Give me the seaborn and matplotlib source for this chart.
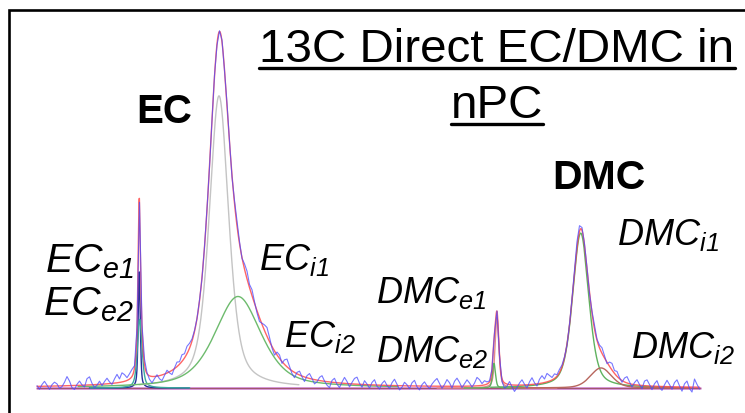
import numpy as np
import pandas as pd
import seaborn as sns
import matplotlib
matplotlib.use("Agg")
import matplotlib.pyplot as plt
from matplotlib.lines import Line2D
from matplotlib.patches import Rectangle

sns.set_theme(style="white")
plt.rcParams["font.family"] = ["Liberation Sans", "DejaVu Sans"]
plt.rcParams["text.color"] = "black"
plt.rcParams["mathtext.fontset"] = "custom"
plt.rcParams["mathtext.rm"] = "Liberation Sans:italic"
plt.rcParams["mathtext.it"] = "Liberation Sans:italic"
plt.rcParams["mathtext.bf"] = "Liberation Sans:bold"

# Fitted components of the 13C spectrum (chemical shift in ppm, intensity in % of the EC maximum)
components = ["ECe1", "ECe2", "ECi1", "ECi2", "DMCe1", "DMCe2", "DMCi1", "DMCi2"]
centers = [65.955, 65.945, 64.36, 63.98, 58.80, 58.86, 57.126, 56.72]
heights = [33.0, 19.5, 83.0, 26.0, 20.0, 7.0, 44.0, 5.7]
fwhm = [0.05, 0.11, 0.46, 1.10, 0.09, 0.07, 0.38, 0.50]
lorentz_frac = [0.5, 0.5, 0.55, 0.55, 0.5, 0.4, 0.45, 0.3]
comp_colors = ["#26309a", "#3aa8a0", "#c4c4c4", "#6dbb6d", "#e58a8a", "#5fb25f", "#5fb25f", "#b8675e"]
comp_span = [1.0, 1.0, 1.6, 3.2, 1.2, 0.6, 1.8, 1.8]

# Measured spectrum: residuals from the fit on a 0.05 ppm grid (68.00 -> 54.75 ppm)
shift_start, shift_step = 68.0, 0.05
residuals = [
    0.2, -0.8, 0.5, 1.4, 0.3, -0.9, 0.4, 1.1, 0.6, -0.7,
    -0.2, 1.0, 2.6, 1.3, -0.6, -1.1, 0.3, 1.2, 0.1, -0.5,
    1.8, 2.3, 0.4, -0.8, -0.2, 0.9, -0.4, 0.7, 1.6, 0.5,
    -0.3, 1.2, 2.4, 1.0, 2.6, 1.9, 0.8, 1.5, 2.0, 0.6,
    0.0, -0.5, 0.5, 1.4, 0.3, -1.0, -1.8, -0.6, 0.4, -0.9,
    -1.6, -0.4, 0.8, -0.3, -1.2, 0.2, 1.3, 0.7, 1.9, 1.2,
    2.1, 1.4, 0.6, 0.3, 0.0, 0.2, -0.3, 0.1, 0.4, -0.2,
    0.0, 0.3, -0.4, 0.2, 0.5, -0.3, 0.6, 0.2, -0.5, 0.8,
    1.4, 0.6, -0.2, 1.5, 2.2, 0.9, 1.7, 0.5, -0.6, -1.1,
    0.3, 1.6, 2.5, 1.2, -0.4, -1.2, 0.8, 1.0, -0.5, 1.3,
    2.2, 0.7, -0.8, -1.5, 0.4, 1.1, -0.2, -1.3, 0.6, 1.4,
    0.2, -1.2, -0.5, 0.9, 1.5, 0.1, -1.0, -1.6, 0.5, 1.2,
    -0.4, -1.3, 0.3, 1.7, 0.6, -0.9, 0.4, 1.6, 2.0, 0.3,
    -0.8, 1.1, 0.2, -1.0, 0.7, 1.5, -0.3, -1.1, 0.5, 1.3,
    0.0, -0.9, 0.8, 1.8, 0.4, -1.2, -0.4, 1.0, 0.3, -0.8,
    0.9, 1.6, -0.2, -1.1, 0.4, 1.2, 0.1, -0.7, 0.6, 1.5,
    2.2, 0.8, -0.6, 0.5, 1.9, 1.0, -0.5, 1.4, 2.3, 1.1,
    -0.4, 0.7, 1.8, 0.9, -0.3, 0.8, 2.4, 1.7, 0.5, 1.2,
    0.6, 0.3, 0.0, -0.2, 0.1, -0.3, -0.8, -1.5, -0.6, 0.9,
    -0.5, -1.8, -0.7, 0.6, 1.5, 0.2, -0.9, 0.8, 1.9, 0.4,
    -0.6, 1.2, 2.1, 1.0, 2.4, 1.6, 0.7, 1.3, 0.4, 0.9,
    0.5, 0.2, -0.3, 0.1, 0.6, 0.9, 1.8, 1.6, 0.8, 0.3,
    0.1, -0.4, 0.5, 1.0, 0.3, 0.8, 1.6, 0.6, -0.4, 1.2,
    1.9, 0.8, 1.4, 0.3, -0.5, 1.1, 1.8, 0.5, -0.8, 0.6,
    1.5, 0.2, -0.9, 1.3, 1.7, 0.4, -1.0, 0.7, 1.6, -0.3,
    -1.1, 0.5, 1.8, 0.6, -0.7, 1.2, 2.0, 0.3, -1.2, 0.9,
    1.7, -0.4, -1.4, 2.3, 0.8, -0.5,
]

peak_labels = [r"$\mathrm{EC}_{\mathrm{e1}}$", r"$\mathrm{EC}_{\mathrm{e2}}$",
               r"$\mathrm{EC}_{\mathrm{i1}}$", r"$\mathrm{EC}_{\mathrm{i2}}$",
               r"$\mathrm{DMC}_{\mathrm{e1}}$", r"$\mathrm{DMC}_{\mathrm{e2}}$",
               r"$\mathrm{DMC}_{\mathrm{i1}}$", r"$\mathrm{DMC}_{\mathrm{i2}}$"]
title_lines = ["13C Direct EC/DMC in", "nPC"]
species = ["EC", "DMC"]


def pseudo_voigt(x, c, h, w, eta):
    u = (x - c) / (w / 2.0)
    return h * (eta / (1.0 + u ** 2) + (1.0 - eta) * np.exp(-np.log(2.0) * u ** 2))


def total_fit(x):
    return sum(pseudo_voigt(x, c, h, w, e)
               for c, h, w, e in zip(centers, heights, fwhm, lorentz_frac))


W, H = 745, 413
fig = plt.figure(figsize=(W / 100, H / 100), dpi=100)
ax = fig.add_axes([0, 0, 1, 1])
ax.set_xlim(68.74, 53.84)
ax.set_ylim(-7.10, 110.23)
ax.axis("off")

shift_lo = shift_start - shift_step * (len(residuals) - 1)
x_fine = np.linspace(shift_start, shift_lo, 4000)

# baseline
base = pd.DataFrame({"ppm": [shift_start, shift_lo], "I": [0.0, 0.0]})
sns.lineplot(data=base, x="ppm", y="I", ax=ax, color="#d08ad0", lw=2.0)
sns.lineplot(data=base, x="ppm", y="I", ax=ax, color="#8a4040", lw=0.7, alpha=0.7)

# individual fitted components
for c, h, w, e, col, span in zip(centers, heights, fwhm, lorentz_frac, comp_colors, comp_span):
    xs = x_fine[np.abs(x_fine - c) <= span]
    df = pd.DataFrame({"ppm": xs, "I": pseudo_voigt(xs, c, h, w, e)})
    sns.lineplot(data=df, x="ppm", y="I", ax=ax, color=col, lw=1.0)

# sum of the fit
fit_df = pd.DataFrame({"ppm": x_fine, "I": total_fit(x_fine)})
sns.lineplot(data=fit_df, x="ppm", y="I", ax=ax, color="#ff4a4a", lw=1.0, alpha=0.85)

# measured spectrum
x_meas = shift_start - shift_step * np.arange(len(residuals))
meas_df = pd.DataFrame({"ppm": x_meas, "I": total_fit(x_meas) + np.array(residuals)})
sns.lineplot(data=meas_df, x="ppm", y="I", ax=ax, color="#4a4aff", lw=0.8, alpha=0.75)


def fx(px):
    return px / W


def fy(py):
    return 1 - py / H


# frame around the panel
fig.patches.append(Rectangle((fx(9.3), -0.2), 1.5, fy(10) + 0.2, transform=fig.transFigure,
                             fill=False, edgecolor="black", lw=1.9))

# title with underline
title_pos = [(497, 62), (497, 118)]
title_objs = []
for txt, (px, py) in zip(title_lines, title_pos):
    t = fig.text(fx(px), fy(py), txt, ha="center", va="baseline", fontsize=34.2, color="black")
    title_objs.append((t, py))

fig.text(fx(136), fy(123), species[0], ha="left", va="baseline", fontsize=29,
         fontweight="bold", color="black")
fig.text(fx(552), fy(189), species[1], ha="left", va="baseline", fontsize=29.5,
         fontweight="bold", color="black")

label_pos = [(45, 272, 29.5), (43, 315, 29.5), (259, 270, 26), (284, 347, 26),
             (376, 303, 26), (376, 362, 26), (617, 245, 26), (631, 358, 26)]
for lab, (px, py, fs) in zip(peak_labels, label_pos):
    fig.text(fx(px), fy(py), lab, ha="left", va="baseline", fontsize=fs, color="black")

fig.canvas.draw()
renderer = fig.canvas.get_renderer()
for t, py in title_objs:
    bb = t.get_window_extent(renderer)
    fig.lines.append(Line2D([bb.x0 / W, bb.x1 / W], [fy(py + 6)] * 2,
                            transform=fig.transFigure, color="black", lw=2.4))

fig.savefig("out.png", dpi=100)
